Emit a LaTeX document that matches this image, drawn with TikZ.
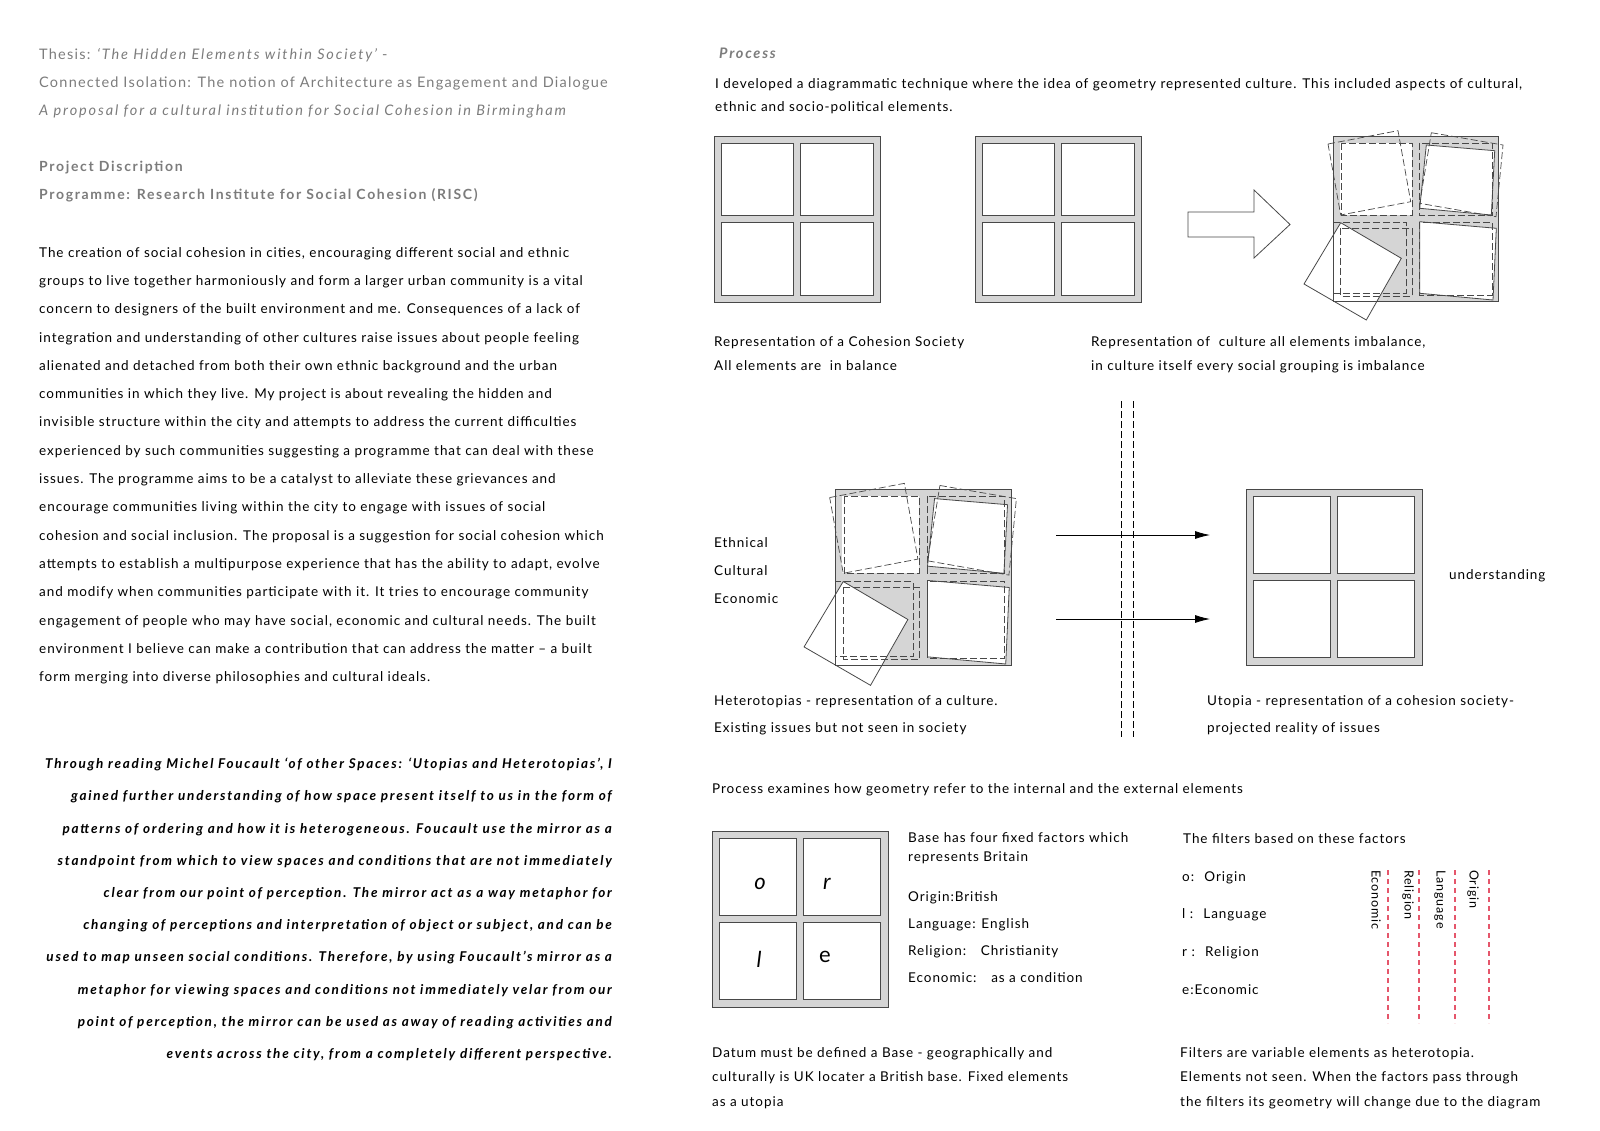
\documentclass[tikz,border=0pt]{standalone}
\usepackage{fontspec}
\setmainfont{Lato}
\newfontfamily\gill[LetterSpace=7]{Lato}
\newfontfamily\gillhead[LetterSpace=8.5]{Lato}
\newfontfamily\gillheadit[LetterSpace=13]{Lato}
\newfontfamily\gillbold[LetterSpace=12]{Lato}
\newfontfamily\gillquote[LetterSpace=13]{Lato}
\usetikzlibrary{arrows.meta, positioning}

\definecolor{headgray}{HTML}{7C7C7C}
\definecolor{framegray}{HTML}{D5D5D5}
\definecolor{linegray}{HTML}{484848}
\definecolor{filterred}{HTML}{E5566B}

\tikzset{
  txt/.style = {anchor=north west, inner sep=0pt, align=left,
                font=\gill\fontsize{13.5}{24}\selectfont},
  head/.style = {txt, text=headgray, font=\gillhead\fontsize{14.5}{28}\selectfont},
  frame/.style = {draw=linegray, line width=0.8pt},
  dashframe/.style = {draw=linegray, line width=0.7pt, dash pattern=on 7pt off 3pt},
  % the balanced base: four cells in a frame
  cohesion/.pic = {
    \fill[framegray, frame] (0,0) rectangle (166,166);
    \foreach \cx in {7,86.5}
      \foreach \cy in {7,86.5}
        \draw[fill=white, frame] (\cx,\cy) rectangle ++(72.5,72.5);
  },
  % the same base after the elements shift
  imbalance/.pic = {
    \fill[framegray] (0,0) rectangle (165,165);
    \fill[white] (7,7) rectangle (79,79);
    \fill[white] (93.3,9) -- (161.7,14.7) -- (158.3,79) -- (86.7,72.3) -- cycle;
    \fill[white] (86.7,85.7) -- (163.3,92.3) -- (160,164) -- (86.7,157.3) -- cycle;
    \fill[white] (7.7,86.7) -- (68.3,122.3) -- (33.3,184) -- (-29,148) -- cycle;
    \fill[framegray] (7.7,86.7) -- (79.5,90) -- (79.5,165) -- (44.1,165) -- (68.3,122.3) -- cycle;
    % shifted outlines
    \draw[dashframe] (-5,8) -- (65,-5.3) -- (77.7,65.7) -- (7.7,79) -- cycle;
    \draw[dashframe] (8.3,7.3) rectangle (79,79);
    \draw[dashframe] (98.3,-3.3) -- (170,9) -- (163,80.7) -- (86.7,67.3) -- cycle;
    \draw[dashframe] (86.5,7) rectangle (159,79);
    \draw[dashframe] (0,86.5) rectangle (73,157);
    \draw[dashframe] (7.7,92) rectangle (79,160);
    \draw[dashframe] (86.5,86.5) rectangle (159,159);
    \draw[frame] (93.3,9) -- (161.7,14.7) -- (158.3,79) -- (86.7,72.3) -- cycle;
    \draw[frame] (86.7,85.7) -- (163.3,92.3) -- (160,164) -- (86.7,157.3) -- cycle;
    \draw[frame] (7.7,86.7) -- (68.3,122.3) -- (33.3,184) -- (-29,148) -- cycle;
    \draw[frame] (0,0) rectangle (165,165);
  },
}

\begin{document}
\begin{tikzpicture}[x=1pt, y=-1pt]
\useasboundingbox (0,0) rectangle (1600,1131);

%% left column
\node[head] (thesis) at (39,48) {Thesis: {\gillheadit\itshape ‘The Hidden Elements within Society’} -\\
Connected Isolation: The notion of Architecture as Engagement and Dialogue\\
{\gillheadit\itshape A proposal for a cultural institution for Social Cohesion in Birmingham}};

\node[head, font=\gillbold\bfseries\fontsize{14}{28}\selectfont] (programme) at (39,161)
  {Project Discription\\Programme: Research Institute for Social Cohesion (RISC)};

\node[txt, font=\gill\fontsize{13.5}{28.3}\selectfont] (description) at (39,247) {%
The creation of social cohesion in cities, encouraging different social and ethnic\\
groups to live together harmoniously and form a larger urban community is a vital\\
concern to designers of the built environment and me. Consequences of a lack of\\
integration and understanding of other cultures raise issues about people feeling\\
alienated and detached from both their own ethnic background and the urban\\
communities in which they live. My project is about revealing the hidden and\\
invisible structure within the city and attempts to address the current difficulties\\
experienced by such communities suggesting a programme that can deal with these\\
issues. The programme aims to be a catalyst to alleviate these grievances and\\
encourage communities living within the city to engage with issues of social\\
cohesion and social inclusion. The proposal is a suggestion for social cohesion which\\
attempts to establish a multipurpose experience that has the ability to adapt, evolve\\
and modify when communities participate with it. It tries to encourage community\\
engagement of people who may have social, economic and cultural needs. The built\\
environment I believe can make a contribution that can address the matter – a built\\
form merging into diverse philosophies and cultural ideals.};

\node[txt, anchor=north east, align=right,
      font=\gillquote\bfseries\itshape\fontsize{13.5}{32.2}\selectfont] (foucault) at (612,758) {%
Through reading Michel Foucault ‘of other Spaces: ‘Utopias and Heterotopias’, I\\
gained further understanding of how space present itself to us in the form of\\
patterns of ordering and how it is heterogeneous. Foucault use the mirror as a\\
standpoint from which to view spaces and conditions that are not immediately\\
clear from our point of perception. The mirror act as a way metaphor for\\
changing of perceptions and interpretation of object or subject, and can be\\
used to map unseen social conditions. Therefore, by using Foucault’s mirror as a\\
metaphor for viewing spaces and conditions not immediately velar from our\\
point of perception, the mirror can be used as away of reading activities and\\
events across the city, from a completely different perspective.};

%% right column
\node[head, font=\gillbold\bfseries\itshape\fontsize{14.5}{28}\selectfont] (process) at (719,48) {Process};
\node[txt, font=\gill\fontsize{13.5}{23}\selectfont] (intro) at (715,78) {I developed a diagrammatic technique where the idea of geometry represented culture. This included aspects of cultural,\\
ethnic and socio-political elements.};

% first row
\pic at (714,136) {cohesion};
\pic at (975,136) {cohesion};
\draw[frame] (1188,212) -- (1254,212) -- (1254,190) -- (1290,224.5)
  -- (1254,258) -- (1254,237) -- (1188,237) -- cycle;
\pic at (1333,136) {imbalance};

\node[txt] (balance) at (714,336) {Representation of a Cohesion Society\\All elements are~ in balance};
\node[txt] (imbal) at (1091,336) {Representation of~ culture all elements imbalance,\\in culture itself every social grouping is imbalance};

% second row
\pic[scale=1.067] at (835,489) {imbalance};
\node[txt, font=\gill\fontsize{13.5}{28}\selectfont] (factors) at (714,537) {Ethnical\\Cultural\\Economic};

\coordinate (wall1a) at (1121,401);
\coordinate (wall1b) at (1121,737);
\coordinate (wall2a) at (1133,401);
\coordinate (wall2b) at (1133,737);
\draw[dashframe, draw=black] (wall1a) -- (wall1b);
\draw[dashframe, draw=black] (wall2a) -- (wall2b);

\coordinate (in1) at (1056,535);
\coordinate (out1) at (1210,535);
\coordinate (in2) at (1056,619);
\coordinate (out2) at (1210,619);
\draw[line width=0.8pt, -{Latex[length=15pt, width=8pt]}] (in1) -- (out1);
\draw[line width=0.8pt, -{Latex[length=15pt, width=8pt]}] (in2) -- (out2);

\pic[scale=1.06] at (1246,489) {cohesion};
\node[txt] (understanding) at (1449,569) {understanding};

\node[txt, font=\gill\fontsize{13.5}{27}\selectfont] (hetero) at (714,695) {Heterotopias - representation of a culture.\\Existing issues but not seen in society};
\node[txt, font=\gill\fontsize{13.5}{27}\selectfont] (utopia) at (1207,695) {Utopia - representation of a cohesion society-\\projected reality of issues};

\node[txt] (examines) at (712,783) {Process examines how geometry refer to the internal and the external elements};

% third row
\pic[scale=1.06] at (712,831) {cohesion};
\node[font=\gill\itshape\fontsize{22}{22}\selectfont] (o) at (760,884) {o};
\node[font=\gill\itshape\fontsize{22}{22}\selectfont] (r) at (827,884) {r};
\node[font=\gill\itshape\fontsize{22}{22}\selectfont] (l) at (759,959) {l};
\node[font=\gill\fontsize{22}{22}\selectfont] (e) at (825,957) {e};

\node[txt, font=\gill\fontsize{13.5}{19}\selectfont] (base) at (908,832) {Base has four fixed factors which\\represents Britain};
\node[txt, font=\gill\fontsize{13.5}{27}\selectfont] (fixed) at (908,891) {Origin:British\\Language: English\\Religion:~~ Christianity\\Economic:~~ as a condition};

\node[txt] (filters) at (1183,833) {The filters based on these factors};
\node[txt, font=\gill\fontsize{13.5}{37.7}\selectfont] (keys) at (1182,871) {o:~ Origin\\l :~ Language\\r :~ Religion\\e:Economic};

\foreach \fx/\lx/\name in {1388/1376/Economic, 1419/1408/Religion, 1455/1440/Language, 1489/1473/Origin}{
  \coordinate (\name top) at (\fx,870);
  \coordinate (\name end) at (\fx,1023);
  \draw[filterred, line width=1.6pt, dash pattern=on 5pt off 4pt] (\name top) -- (\name end);
  \node[rotate=-90, anchor=west, inner sep=0pt, font=\gill\fontsize{12.5}{14}\selectfont] (\name label) at (\lx,870) {\name};
}

\node[txt, font=\gill\fontsize{13.5}{24.8}\selectfont] (datum) at (712,1047) {Datum must be defined a Base - geographically and\\
culturally is UK locater a British base. Fixed elements\\as a utopia};
\node[txt, font=\gill\fontsize{13.5}{24.8}\selectfont] (variable) at (1180,1047) {Filters are variable elements as heterotopia.\\
Elements not seen. When the factors pass through\\the filters its geometry will change due to the diagram};
\end{tikzpicture}
\end{document}
